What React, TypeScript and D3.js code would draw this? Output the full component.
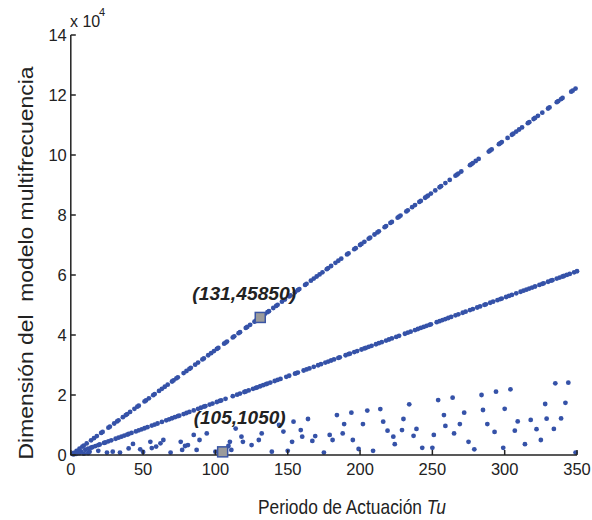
import React, { useEffect } from "react";
import * as d3 from "d3";

const xTicks = [0, 50, 100, 150, 200, 250, 300, 350];
const yTicks = [0, 2, 4, 6, 8, 10, 12, 14];

const upperX = [1,2,4,6,8,9,11,14,16,18,21,22,26,27,30,32,33,36,38,39,41,44,46,47,51,52,54,57,58,61,63,65,67,70,71,73,74,78,80,82,83,86,88,91,92,95,97,99,101,102,106,107,108,112,113,116,117,121,122,124,127,128,131,134,136,137,140,142,143,146,148,151,152,155,157,158,162,163,166,168,170,172,174,177,178,180,183,185,187,191,192,196,197,200,201,203,206,207,210,212,213,217,218,221,222,226,227,228,232,233,236,238,241,242,245,246,247,249,252,255,256,259,262,266,267,268,270,276,277,278,280,282,289,290,291,296,297,298,302,305,306,308,310,312,316,317,320,321,323,326,330,331,336,337,339,340,346,347,349];
const upperY = [350,700,1400,2100,2800,3150,3850,4900,5600,6300,7350,7700,9100,9450,10500,11200,11550,12600,13300,13650,14350,15400,16100,16450,17850,18200,18900,19950,20300,21350,22050,22750,23450,24500,24850,25550,25900,27300,28000,28700,29050,30100,30800,31850,32200,33250,33950,34650,35350,35700,37100,37450,37800,39200,39550,40600,40950,42350,42700,43400,44450,44800,45850,46900,47600,47950,49000,49700,50050,51100,51800,52850,53200,54250,54950,55300,56700,57050,58100,58800,59500,60200,60900,61950,62300,63000,64050,64750,65450,66850,67200,68600,68950,70000,70350,71050,72100,72450,73500,74200,74550,75950,76300,77350,77700,79100,79450,79800,81200,81550,82600,83300,84350,84700,85750,86100,86450,87150,88200,89250,89600,90650,91700,93100,93450,93800,94500,96600,96950,97300,98000,98700,101150,101500,101850,103600,103950,104300,105700,106750,107100,107800,108500,109200,110600,110950,112000,112350,113050,114100,115500,115850,117600,117950,118650,119000,121100,121450,122150];

const middleX = [3,5,7,10,12,14,15,17,19,20,23,24,26,28,31,33,35,37,39,40,42,45,47,49,51,53,56,58,60,63,66,68,70,72,74,75,78,80,82,85,88,90,92,93,96,98,101,103,104,107,112,115,117,120,121,123,126,128,129,131,133,135,136,138,141,143,145,149,151,155,156,157,161,163,165,168,171,173,176,178,180,182,185,186,190,192,193,196,198,201,203,204,206,208,211,213,215,218,220,222,225,227,231,233,235,238,240,242,244,246,248,249,253,255,257,259,261,263,266,268,271,273,276,278,281,283,286,287,290,292,295,297,298,301,303,305,308,311,313,315,317,319,321,324,326,327,330,332,333,336,338,340,341,343,345,348,350];
const middleY = [525,875,1225,1750,2100,2450,2625,2975,3325,3500,4025,4200,4550,4900,5425,5775,6125,6475,6825,7000,7350,7875,8225,8575,8925,9275,9800,10150,10500,11025,11550,11900,12250,12600,12950,13125,13650,14000,14350,14875,15400,15750,16100,16275,16800,17150,17675,18025,18200,18725,19600,20125,20475,21000,21175,21525,22050,22400,22575,22925,23275,23625,23800,24150,24675,25025,25375,26075,26425,27125,27300,27475,28175,28525,28875,29400,29925,30275,30800,31150,31500,31850,32375,32550,33250,33600,33775,34300,34650,35175,35525,35700,36050,36400,36925,37275,37625,38150,38500,38850,39375,39725,40425,40775,41125,41650,42000,42350,42700,43050,43400,43575,44275,44625,44975,45325,45675,46025,46550,46900,47425,47775,48300,48650,49175,49525,50050,50225,50750,51100,51625,51975,52150,52675,53025,53375,53900,54425,54775,55125,55475,55825,56175,56700,57050,57225,57750,58100,58275,58800,59150,59500,59675,60025,60375,60900,61250];

const scatterX = [2,4,6,9,12,13,19,25,29,34,40,43,48,50,55,56,59,62,64,69,76,77,79,81,85,87,89,94,100,105,109,110,111,114,118,119,125,130,132,139,144,147,150,153,154,159,160,164,167,169,175,179,181,184,188,189,194,195,199,202,205,209,214,216,219,223,224,229,230,234,237,239,243,250,251,254,258,259,264,265,269,272,275,279,284,285,288,293,294,299,300,304,307,309,314,318,322,325,328,329,334,335,339,342,344,349];
const scatterY = [200,400,600,450,600,1100,1400,800,1100,800,2200,3700,1900,1000,4400,2300,2800,3900,5000,800,4400,1700,3000,3300,6700,1700,5000,7200,1100,1050,3000,4400,1700,8800,6100,4400,3300,5000,7200,1100,10000,7800,1400,4400,11100,8300,6100,12000,4700,6300,800,6700,5000,13300,7200,10300,14100,5000,2000,10300,14800,1400,15300,11100,8100,6100,3600,8300,12000,16900,6400,8700,2400,2400,6700,18300,13300,9700,19100,7200,10300,14100,4400,1900,20000,15000,10300,7700,21100,2400,15400,21900,8100,11200,3600,11700,8600,5000,17000,12100,8700,23900,12200,17400,24100,800];

const markerX = [131, 105];
const markerY = [45850, 1050];
const markerLabels = ["(131,45850)", "(105,1050)"];

const W = 592;
const H = 520;
const FONT = "'Liberation Sans', Arial, Helvetica, sans-serif";
const DOT = "#3552a8";

export default function App() {
  useEffect(() => {
    document.body.style.margin = "0";
  }, []);

  const x = d3.scaleLinear().domain([0, 350]).range([70.8, 577]);
  const y = d3.scaleLinear().domain([0, 140000]).range([455, 35]);

  const series = [
    { xs: upperX, ys: upperY },
    { xs: middleX, ys: middleY },
    { xs: scatterX, ys: scatterY },
  ];

  const labelOffsets = [
    { dx: -68, dy: -17, len: 104 },
    { dx: -29, dy: -28, len: 92 },
  ];

  return (
    <svg width={W} height={H} style={{ position: "absolute", left: 0, top: 0, background: "#fff" }} fontFamily={FONT}>
      <rect x={0} y={0} width={W} height={H} fill="#fff" />
      {series.map((s, si) => (
        <g key={si} fill={DOT}>
          {s.xs.map((xv, i) => (
            <circle key={i} cx={x(xv)} cy={y(s.ys[i])} r={2.4} />
          ))}
        </g>
      ))}
      <g stroke="#222" strokeWidth={1.5} fill="none">
        <line x1={x(0)} y1={y(140000)} x2={x(0)} y2={y(0)} />
        <line x1={x(0)} y1={y(0)} x2={x(350)} y2={y(0)} />
        {yTicks.map((t) => (
          <line key={"yt" + t} x1={x(0)} x2={x(0) + 5} y1={y(t * 10000)} y2={y(t * 10000)} />
        ))}
        {xTicks.map((t) => (
          <line key={"xt" + t} x1={x(t)} x2={x(t)} y1={y(0)} y2={y(0) - 5} />
        ))}
      </g>
      <g fontSize={16.5} fill="#222">
        {yTicks.map((t) => (
          <text key={"yl" + t} x={x(0) - 4} y={y(t * 10000)} dy="0.36em" textAnchor="end">
            {t}
          </text>
        ))}
        {xTicks.map((t) => (
          <text key={"xl" + t} x={x(t)} y={475} textAnchor="middle">
            {t}
          </text>
        ))}
      </g>
      <text x={70} y={26.5} fontSize={16} fill="#222">x 10</text>
      <text x={99} y={16} fontSize={11} fill="#222">4</text>
      {markerX.map((mx, i) => (
        <g key={"m" + i}>
          <rect x={x(mx) - 5} y={y(markerY[i]) - 5} width={10} height={10} fill="#9b9b9b" stroke="#3a55a4" strokeWidth={1.5} />
          <text
            x={x(mx) + labelOffsets[i].dx}
            y={y(markerY[i]) + labelOffsets[i].dy}
            fontSize={18.5}
            fontWeight="bold"
            fontStyle="italic"
            fill="#222"
            textLength={labelOffsets[i].len}
            lengthAdjust="spacingAndGlyphs"
          >
            {markerLabels[i]}
          </text>
        </g>
      ))}
      <g transform="translate(258,514) scale(0.868,1)">
        <text x={0} y={0} fontSize={20} fill="#222">
          Periodo de Actuación <tspan fontStyle="italic">Tu</tspan>
        </text>
      </g>
      <g transform="translate(33,263) rotate(-90) scale(1.09,1)">
        <text x={0} y={0} fontSize={21} textAnchor="middle" fill="#222" style={{ whiteSpace: "pre" }}>
          {"Dimensión del  modelo multifrecuencia"}
        </text>
      </g>
    </svg>
  );
}
